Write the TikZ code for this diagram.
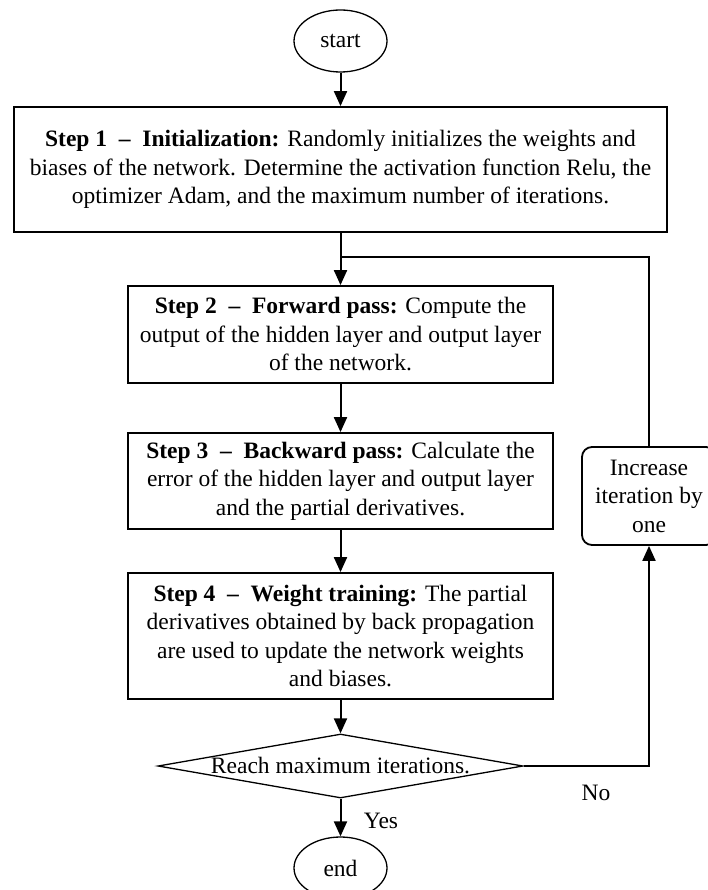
\documentclass[tikz,border=0pt]{standalone}
\usepackage{fontspec}
\setmainfont{Liberation Serif}
\usetikzlibrary{shapes.geometric,arrows.meta}
\begin{document}
\begin{tikzpicture}[x=1pt,y=-1pt,
  every node/.style={font=\fontsize{23.5}{28.5}\selectfont},
  stepbox/.style={draw,line width=1.8pt,align=center,inner sep=0pt,
    minimum width=425pt},
  terminal/.style={draw,ellipse,line width=1.3pt,inner sep=0pt,
    minimum width=93pt,minimum height=62pt},
  decision/.style={draw,diamond,line width=1.3pt,inner sep=0pt,
    minimum width=365pt,minimum height=64pt},
  loopbox/.style={draw,line width=1.8pt,rounded corners=10pt,align=center,
    inner sep=0pt,minimum width=134pt,minimum height=98pt},
  flow/.style={line width=2pt},
  arr/.style={flow,-{Triangle[length=15pt,width=13pt]}},
]
\useasboundingbox (0,0) rectangle (707,890);

% main column
\node[terminal] (start) at (340.5,41) {start};

\node[stepbox,minimum width=653pt,minimum height=125pt] (s1) at (340.5,169.5)
  {\textbf{Step 1~~–~~Initialization:} Randomly initializes the weights and\\
   biases of the network. Determine the activation function Relu, the\\
   optimizer Adam, and the maximum number of iterations.};

\node[stepbox,minimum height=97pt] (s2) at (340.5,334.5)
  {\textbf{Step 2~~–~~Forward pass:} Compute the\\
   output of the hidden layer and output layer\\
   of the network.};

\node[stepbox,minimum height=96pt] (s3) at (340.5,481)
  {\textbf{Step 3~~–~~Backward pass:} Calculate the\\
   error of the hidden layer and output layer\\
   and the partial derivatives.};

\node[stepbox,minimum height=126pt] (s4) at (340.5,636)
  {\textbf{Step 4~~–~~Weight training:} The partial\\
   derivatives obtained by back propagation\\
   are used to update the network weights\\
   and biases.};

\node[decision,label={center:Reach maximum iterations.}] (dec) at (340.5,766) {};

\node[terminal] (end) at (340.5,868) {end};

% loop-back branch
\node[loopbox] (inc) at (649,496) {Increase\\iteration by\\one};
\coordinate (junc) at (340.5,257);

\node (yes) at (381,821) {Yes};
\node (no) at (596,793) {No};

% connectors
\draw[arr] (start.south) -- (s1.north);
\draw[arr] (s1.south) -- (s2.north);
\draw[arr] (s2.south) -- (s3.north);
\draw[arr] (s3.south) -- (s4.north);
\draw[arr] (s4.south) -- (dec.north);
\draw[arr] (dec.south) -- (end.north);
\draw[arr] (dec.east) -| (inc.south);
\draw[flow] (inc.north) |- (junc);
\end{tikzpicture}
\end{document}
